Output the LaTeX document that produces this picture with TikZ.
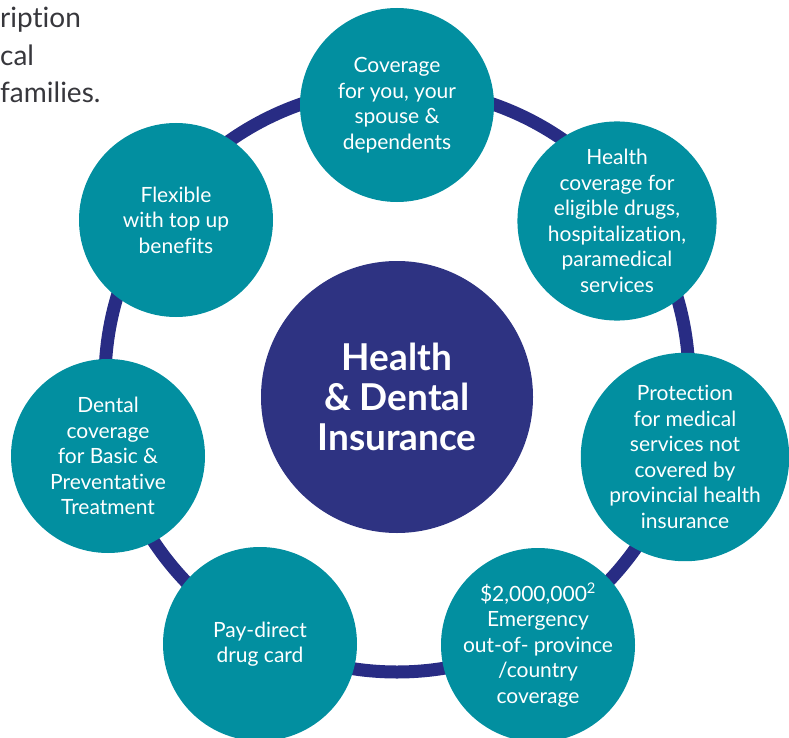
\documentclass[tikz,border=0pt]{standalone}
\usepackage{fontspec}
\setmainfont{Lato}[Ligatures={NoCommon}]
\usepackage{xcolor}
\definecolor{benteal}{RGB}{2,143,160}
\definecolor{bennavy}{RGB}{46,51,130}
\definecolor{ringnavy}{RGB}{40,44,132}
\definecolor{introgray}{RGB}{55,55,60}

\begin{document}
\begin{tikzpicture}[x=1pt,y=-1pt,
	bubble/.style={circle,fill=benteal,minimum size=194pt,inner sep=0pt,
		text=white,align=center,font=\fontsize{21}{25.5}\selectfont},
	hub/.style={circle,fill=bennavy,minimum size=272pt,inner sep=0pt,
		text=white,align=center,font=\fontsize{37}{40}\selectfont\bfseries},
	ring/.style={draw=ringnavy,line width=13pt},
	intro/.style={anchor=base west,inner sep=0pt,text=introgray,
		font=\fontsize{28}{38}\selectfont}]
	\useasboundingbox (0,0) rectangle (789,738);
	
	% cut-off lines of the text beside the picture
	\node[intro] at (0,28) (introa) {ription};
	\node[intro] at (0,66) (introb) {cal};
	\node[intro] at (0,103) (introc) {families.};
	
	\coordinate (ringc) at (397,380);
	\draw[ring] (ringc) circle [radius=292pt];
	
	\node[hub] at (397,397) (main) {Health\\\& Dental\\Insurance};
	
	\node[bubble] at (397,105) (cover) {Coverage\\for you, your\\spouse \&\\dependents};
	\node[bubble] at (617,221) (health) {Health\\coverage for\\eligible drugs,\\hospitalization,\\paramedical\\services};
	\node[bubble] at (685,457) (protect) {Protection\\for medical\\services not\\covered by\\provincial health\\insurance};
	\node[bubble] at (538,645) (emerg) {\$2,000,000\textsuperscript{2}\\Emergency\\out-of- province\\/country\\coverage};
	\node[bubble] at (260,644) (paydir) {Pay-direct\\drug card};
	\node[bubble] at (108,456) (dental) {Dental\\coverage\\for Basic \&\\Preventative\\Treatment};
	\node[bubble] at (176,220) (flex) {Flexible\\with top up\\benefits};
\end{tikzpicture}
\end{document}
